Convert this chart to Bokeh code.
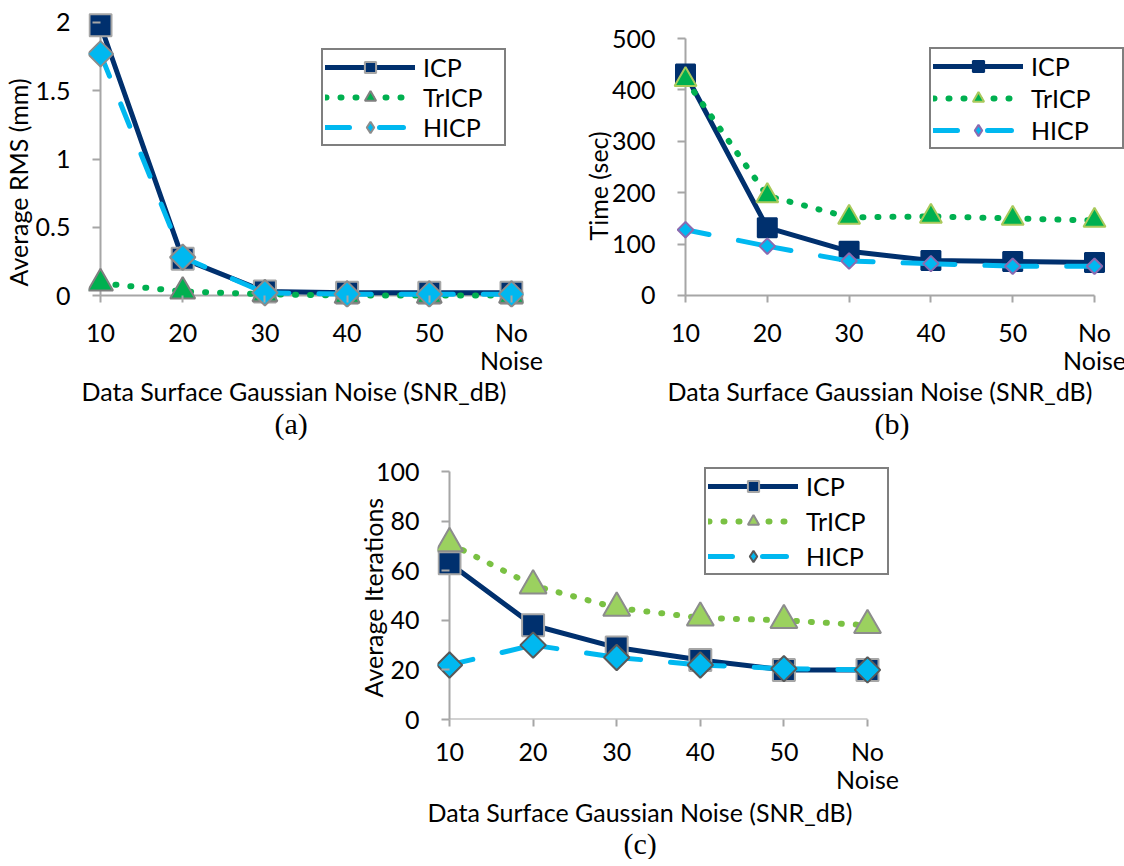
import math
from bokeh.plotting import figure
from bokeh.models import Range1d, FixedTicker, Legend, LegendItem, Title, Spacer
from bokeh.layouts import row, column
from bokeh.embed import file_html
from bokeh.resources import INLINE

# ---------------- data ----------------
categories = ["10", "20", "30", "40", "50", "No\nNoise"]
x_title = "Data Surface Gaussian Noise (SNR_dB)"
series_names = ["ICP", "TrICP", "HICP"]

rms_icp = [1.98, 0.27, 0.03, 0.02, 0.02, 0.02]
rms_tricp = [0.09, 0.03, 0.01, 0.0, 0.0, 0.0]
rms_hicp = [1.77, 0.28, 0.02, 0.01, 0.01, 0.01]
rms_ticks = [0, 0.5, 1, 1.5, 2]
rms_tick_labels = ["0", "0.5", "1", "1.5", "2"]

time_icp = [431, 132, 86, 68, 66, 64]
time_tricp = [420, 194, 152, 154, 150, 146]
time_hicp = [128, 96, 67, 62, 57, 57]
time_ticks = [0, 100, 200, 300, 400, 500]

iter_icp = [63, 38, 29, 24, 20, 20]
iter_tricp = [71, 54, 45, 41, 40, 38]
iter_hicp = [22, 30, 25, 22, 20.5, 20]
iter_ticks = [0, 20, 40, 60, 80, 100]

# ---------------- style ----------------
FONT = "Lato"
FS = "25px"
NAVY = "#00306e"
GREEN = "#00b050"
LGREEN_DOT = "#7ac143"
LGREEN_FILL = "#9bd15f"
BLUE = "#00b8f0"
AXIS = "#a6a6a6"
PAD = 12  # px between the left frame edge and the vertical axis line


def segments(xs, ys):
    sx = [[xs[i], xs[i + 1]] for i in range(len(xs) - 1)]
    sy = [[ys[i], ys[i + 1]] for i in range(len(ys) - 1)]
    return sx, sy


def text_title(text, align, offset, standoff, font=FONT, size=FS):
    return Title(text=text, align=align, offset=offset, standoff=standoff,
                 text_font=font, text_font_size=size, text_font_style="normal",
                 text_color="black")


def build(cfg):
    xs = list(range(len(categories)))
    n = len(categories) - 1
    unit = (cfg["fw"] - PAD - cfg["rpad"]) / n
    bpad = cfg["bpad"]
    p = figure(frame_width=cfg["fw"], frame_height=cfg["fh"],
               x_range=Range1d(-PAD / unit, n + cfg["rpad"] / unit),
               y_range=Range1d(*cfg["yr"]),
               min_border_left=cfg["mbl"], min_border_right=cfg["mbr"],
               min_border_top=cfg["mbt"], min_border_bottom=0,
               output_backend="svg", toolbar_location=None)
    p.outline_line_color = None
    p.grid.visible = False
    p.background_fill_color = "white"
    p.border_fill_color = "white"

    ticks = cfg["yticks"]
    xa = p.xaxis[0]
    ya = p.yaxis[0]
    for ax in (xa, ya):
        ax.axis_line_color = None
        ax.major_tick_line_color = AXIS
        ax.major_tick_line_width = 2
        ax.minor_tick_line_color = None
        ax.major_label_text_font = FONT
        ax.major_label_text_font_size = FS
        ax.major_label_text_color = "black"
    # ticks hang from the zero lines, which may sit inside the frame
    xa.major_tick_in = bpad
    xa.major_tick_out = 7 - bpad
    xa.major_label_standoff = 9
    xa.major_label_text_line_height = 0.95
    xa.ticker = FixedTicker(ticks=xs)
    xa.major_label_overrides = dict(zip(xs, categories))
    xa.bounds = (xs[0], xs[-1])

    ya.major_tick_in = PAD
    ya.major_tick_out = 8 - PAD
    ya.major_label_standoff = 18
    ya.ticker = FixedTicker(ticks=ticks)
    if cfg.get("ytick_labels"):
        ya.major_label_overrides = dict(zip(ticks, cfg["ytick_labels"]))
    ya.bounds = (ticks[0], ticks[-1])

    # axis lines
    p.segment(x0=[xs[0]], y0=[ticks[0]], x1=[xs[0]], y1=[ticks[-1]], line_color=AXIS, line_width=2)
    p.segment(x0=[xs[0]], y0=[ticks[0]], x1=[xs[-1]], y1=[ticks[0]], line_color=AXIS, line_width=2)

    icp, tr, hi = cfg["data"]
    st = cfg["style"]
    l1 = p.line(xs, icp, line_color=NAVY, line_width=5, line_join="round", line_cap="round")
    m1 = p.scatter(xs, icp, marker="square", size=st["sq_size"], fill_color=NAVY,
                   line_color=st["sq_line"], line_width=2)
    l2 = p.line(xs, tr, line_color=st["dot"], line_width=6, line_dash="1 14", line_cap="round")
    m2 = p.scatter(xs, tr, marker="triangle", size=st["tri_size"], fill_color=st["tri_fill"],
                   line_color=st["tri_line"], line_width=2)
    hx, hy = segments(xs, hi)
    l3 = p.multi_line(hx, hy, line_color=BLUE, line_width=5, line_dash="24 30", line_cap="round")
    # legend-shaped diamond, fully covered by the rotated-square diamond drawn on top
    m3_leg = p.scatter(xs, hi, marker="diamond", size=st["dia_size"] * 1.2,
                       fill_color=BLUE, line_color=st["dia_line"], line_width=2)
    p.scatter(xs, hi, marker="square", angle=math.pi / 4, size=st["dia_size"],
              fill_color=BLUE, line_color=st["dia_line"], line_width=2)

    items = [LegendItem(label=series_names[0], renderers=[l1, m1]),
             LegendItem(label=series_names[1], renderers=[l2, m2]),
             LegendItem(label=series_names[2], renderers=[l3, m3_leg])]
    leg = Legend(items=items, location=cfg["leg_loc"], orientation="vertical",
                 border_line_color="black", border_line_width=2,
                 background_fill_color="white", background_fill_alpha=1.0,
                 label_text_font=FONT, label_text_font_size=FS, label_text_color="black",
                 glyph_width=90, glyph_height=28, label_height=28,
                 label_width=cfg["leg_lw"], label_standoff=8,
                 padding=2, spacing=cfg["leg_sp"], margin=0)
    p.add_layout(leg)

    # axis titles and caption
    yt_off, yt_so = cfg["yt"]
    p.add_layout(text_title(cfg["ytitle"], "left", yt_off, yt_so), "left")
    xt_off, xt_so = cfg["xt"]
    p.add_layout(text_title(x_title, "left", xt_off, xt_so), "below")
    cap_off, cap_so = cfg["cap"]
    p.add_layout(text_title(cfg["caption"], "left", cap_off, cap_so,
                            font="Liberation Serif", size="30px"), "below")
    return p


pa = build(dict(fw=435, rpad=12, fh=297, bpad=12, yr=(-0.0879, 2.0879), mbl=86, mbr=39, mbt=10,
                yticks=rms_ticks, ytick_labels=rms_tick_labels,
                ytitle="Average RMS (mm)", yt=(21, 0), xt=(-7, -10), cap=(186, 9), caption="(a)",
                data=(rms_icp, rms_tricp, rms_hicp),
                style=dict(sq_size=22, sq_line="#a6a6a6", dot=GREEN, tri_size=25, tri_fill=GREEN,
                           tri_line="#7f7f7f", dia_size=18, dia_line="#8c8c8c"),
                leg_loc=(233, 161), leg_lw=79, leg_sp=0))

pb = build(dict(fw=451, rpad=30, fh=297, bpad=12, yr=(-23.35, 554.5), mbl=111, mbr=2, mbt=10,
                yticks=time_ticks, ytick_labels=None,
                ytitle="Time (sec)", yt=(67, -8), xt=(-6, -10), cap=(201, 9), caption="(b)",
                data=(time_icp, time_tricp, time_hicp),
                style=dict(sq_size=19, sq_line=NAVY, dot=GREEN, tri_size=22, tri_fill=GREEN,
                           tri_line="#a9c95b", dia_size=11, dia_line="#8a6bb0"),
                leg_loc=(256, 158), leg_lw=89, leg_sp=2))

pc = build(dict(fw=454, rpad=24, fh=260, bpad=0, yr=(0, 104.84), mbl=97, mbr=10, mbt=15,
                yticks=iter_ticks, ytick_labels=None,
                ytitle="Average Iterations", yt=(22, -30), xt=(-10, -5), cap=(186, 0), caption="(c)",
                data=(iter_icp, iter_tricp, iter_hicp),
                style=dict(sq_size=22, sq_line="#a6a6a6", dot=LGREEN_DOT, tri_size=27,
                           tri_fill=LGREEN_FILL, tri_line="#8c8c8c", dia_size=18, dia_line="#595959"),
                leg_loc=(267, 144), leg_lw=79, leg_sp=5))

layout = column(row(pa, pb), row(Spacer(width=340, height=1), pc))
open("out.html", "w").write(file_html(layout, INLINE))
